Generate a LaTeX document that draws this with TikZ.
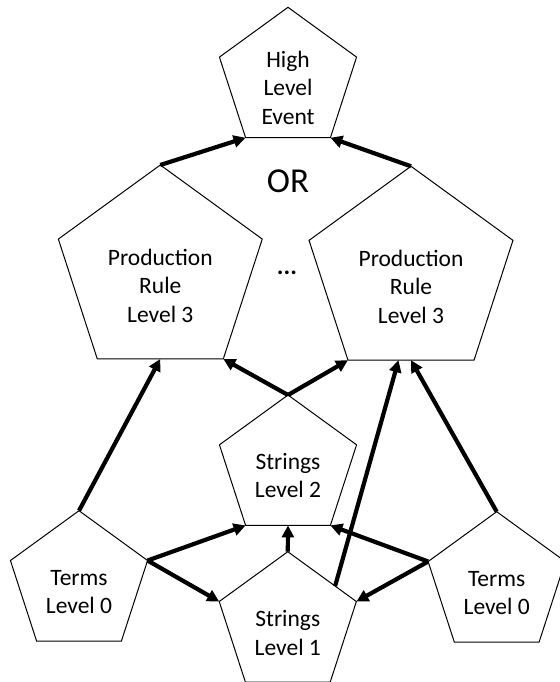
\documentclass[tikz,border=0pt]{standalone}
\usepackage{fontspec}
\setmainfont{Carlito}
\usetikzlibrary{shapes.geometric,arrows.meta,calc}

\tikzset{
  penta/.style={draw, regular polygon, regular polygon sides=5,
    line width=1pt, inner sep=0pt, outer sep=0pt},
  smallpenta/.style={penta, minimum size=144.2pt},
  bigpenta/.style={penta, minimum size=214.4pt},
  lbl/.style={align=center, inner sep=0pt,
    font=\fontsize{23.5}{28.5}\selectfont},
  arr/.style={line width=4.2pt, -{Triangle[length=12pt,width=12pt]}},
}

\begin{document}
\begin{tikzpicture}[x=1pt,y=-1pt]
  \useasboundingbox (0,0) rectangle (559,682);

  % pentagons
  \node[smallpenta] (hle) at (288,79.4) {};
  \node[bigpenta]   (prl) at (160.3,272.2) {};
  \node[bigpenta]   (prr) at (411,273.5) {};
  \node[smallpenta] (s2)  at (288,467.1) {};
  \node[smallpenta] (tl)  at (79,582.8) {};
  \node[smallpenta] (tr)  at (496.7,583.8) {};
  \node[smallpenta] (s1)  at (287.8,623.8) {};

  % labels
  \node[lbl] (hlet) at ([yshift=-8.3pt]hle.center) {High\\Level\\Event};
  \node[lbl] (prlt) at ([yshift=-13.3pt]prl.center) {Production\\Rule\\Level 3};
  \node[lbl] (prrt) at ([yshift=-13.3pt]prr.center) {Production\\Rule\\Level 3};
  \node[lbl] (s2t)  at ([yshift=-8.6pt]s2.center) {Strings\\Level 2};
  \node[lbl] (tlt)  at ([yshift=-9.1pt]tl.center) {Terms\\Level 0};
  \node[lbl] (trt)  at ([yshift=-9.1pt]tr.center) {Terms\\Level 0};
  \node[lbl] (s1t)  at ([yshift=-9.3pt]s1.center) {Strings\\Level 1};

  \node[inner sep=0pt, anchor=base, font=\fontsize{35}{40}\selectfont] (or) at (288,192) {OR};
  \node[inner sep=0pt, anchor=base, font=\bfseries\fontsize{25}{28}\selectfont] (dots) at (287,274) {...};

  % free end of the long connector on the edge of Strings Level 1
  \coordinate (s1edge) at ($(s1.corner 1)!0.69!(s1.corner 5)$);

  % connectors
  \draw[arr] (prl.corner 1) -- (hle.corner 3);
  \draw[arr] (prr.corner 1) -- (hle.corner 4);
  \draw[arr] (tl.corner 1) -- (prl.south);
  \draw[arr] (s2.corner 1) -- (prl.corner 4);
  \draw[arr] (s2.corner 1) -- (prr.corner 3);
  \draw[arr] (s1edge) -- ([xshift=-12.5pt]prr.south);
  \draw[arr] (tr.corner 1) -- (prr.south);
  \draw[arr] (tl.corner 5) -- (s2.corner 3);
  \draw[arr] (tl.corner 5) -- (s1.corner 2);
  \draw[arr] (s1.corner 1) -- (s2.south);
  \draw[arr] (tr.corner 2) -- (s2.corner 4);
  \draw[arr] (tr.corner 2) -- (s1.corner 5);
\end{tikzpicture}
\end{document}
